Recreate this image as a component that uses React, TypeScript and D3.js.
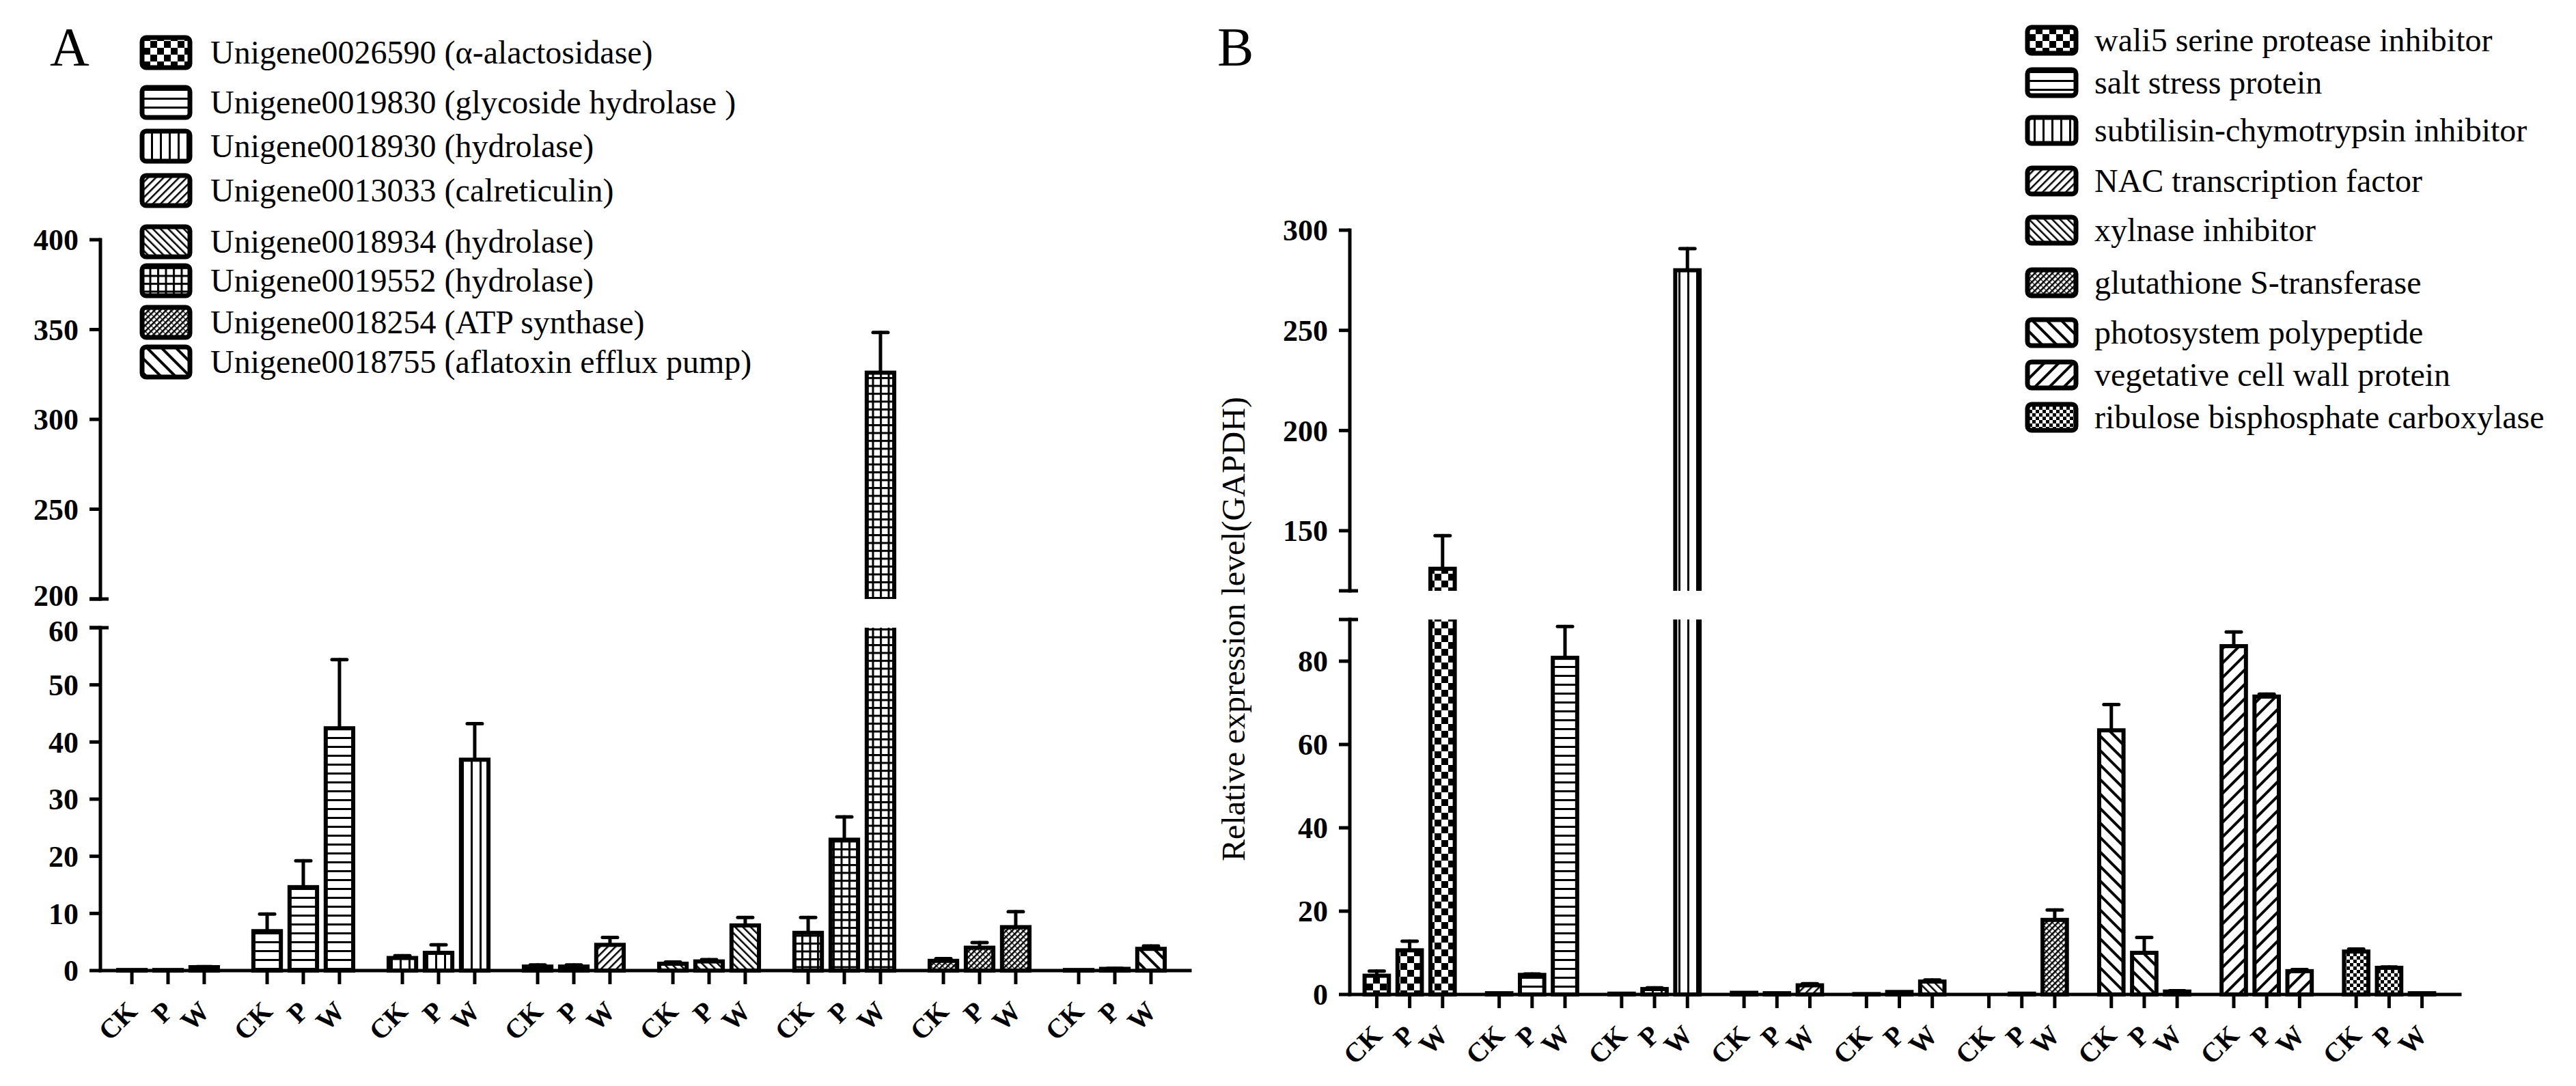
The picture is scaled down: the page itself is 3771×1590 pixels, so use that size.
import React from 'react';
import * as d3 from 'd3';

// treatments shared by both panels
const treatments = ['CK', 'P', 'W'];

// panel A
const genesA = [
  'Unigene0026590 (α-alactosidase)',
  'Unigene0019830 (glycoside hydrolase )',
  'Unigene0018930 (hydrolase)',
  'Unigene0013033 (calreticulin)',
  'Unigene0018934 (hydrolase)',
  'Unigene0019552 (hydrolase)',
  'Unigene0018254 (ATP synthase)',
  'Unigene0018755 (aflatoxin efflux pump)',
];
const meansA = [
  [0.1, 0.1, 0.6],
  [6.9, 14.6, 42.4],
  [2.2, 3.1, 36.9],
  [0.7, 0.7, 4.5],
  [1.2, 1.6, 7.9],
  [6.6, 22.9, 326],
  [1.7, 4.0, 7.6],
  [0.1, 0.3, 3.8],
];
const errorsA = [
  [0, 0, 0.1],
  [3.0, 4.6, 12.0],
  [0.4, 1.4, 6.3],
  [0.3, 0.3, 1.3],
  [0.3, 0.3, 1.4],
  [2.7, 4.0, 22.4],
  [0.4, 0.9, 2.7],
  [0, 0.1, 0.5],
];
const patternsA = ['checker', 'hlines', 'vlines', 'fdiag', 'bdiag', 'grid', 'dense', 'wbdiag'];
const lowerTicksA = [0, 10, 20, 30, 40, 50, 60];
const upperTicksA = [200, 250, 300, 350, 400];

// panel B
const genesB = [
  'wali5 serine protease inhibitor',
  'salt stress protein',
  'subtilisin-chymotrypsin inhibitor',
  'NAC transcription factor',
  'xylnase inhibitor',
  'glutathione S-transferase',
  'photosystem polypeptide',
  'vegetative cell wall protein',
  'ribulose bisphosphate carboxylase',
];
const meansB = [
  [4.5, 10.6, 131],
  [0.3, 4.7, 80.8],
  [0.2, 1.3, 280],
  [0.4, 0.3, 2.2],
  [0.1, 0.6, 3.1],
  [0.0, 0.2, 17.9],
  [63.4, 10.0, 0.7],
  [83.6, 71.5, 5.6],
  [10.3, 6.4, 0.3],
];
const errorsB = [
  [1.1, 2.2, 16.5],
  [0, 0.2, 7.5],
  [0, 0.3, 10.8],
  [0, 0, 0.4],
  [0, 0, 0.4],
  [0, 0, 2.4],
  [6.2, 3.7, 0.2],
  [3.4, 0.6, 0.4],
  [0.6, 0.2, 0],
];
const patternsB = ['checker', 'hlines', 'vlines', 'fdiag', 'bdiag', 'dense', 'wbdiag', 'wfdiag', 'smallchecker'];
const lowerTicksB = [0, 20, 40, 60, 80];
const upperTicksB = [150, 200, 250, 300];

const FONT = "'Liberation Serif', 'Times New Roman', Times, serif";

const Patterns = () => (
  <defs>
    <pattern id="checker" width={20} height={20} patternUnits="userSpaceOnUse">
      <rect width={20} height={20} fill="#fff" />
      <rect width={10} height={10} fill="#000" />
      <rect x={10} y={10} width={10} height={10} fill="#000" />
    </pattern>
    <pattern id="smallchecker" width={10} height={10} patternUnits="userSpaceOnUse">
      <rect width={10} height={10} fill="#fff" />
      <rect width={5} height={5} fill="#000" />
      <rect x={5} y={5} width={5} height={5} fill="#000" />
    </pattern>
    <pattern id="hlines" width={13} height={13} patternUnits="userSpaceOnUse">
      <rect width={13} height={13} fill="#fff" />
      <rect y={0} width={13} height={3} fill="#000" />
    </pattern>
    <pattern id="vlines" width={13} height={13} patternUnits="userSpaceOnUse">
      <rect width={13} height={13} fill="#fff" />
      <rect x={0} width={3} height={13} fill="#000" />
    </pattern>
    <pattern id="grid" width={11.5} height={11.5} patternUnits="userSpaceOnUse">
      <rect width={11.5} height={11.5} fill="#fff" />
      <rect width={11.5} height={3} fill="#000" />
      <rect width={3} height={11.5} fill="#000" />
    </pattern>
    <pattern id="fdiag" width={8} height={8} patternUnits="userSpaceOnUse" patternTransform="rotate(45)">
      <rect width={8} height={8} fill="#fff" />
      <rect width={2.5} height={8} fill="#000" />
    </pattern>
    <pattern id="bdiag" width={8} height={8} patternUnits="userSpaceOnUse" patternTransform="rotate(-45)">
      <rect width={8} height={8} fill="#fff" />
      <rect width={2.5} height={8} fill="#000" />
    </pattern>
    <pattern id="dense" width={6} height={6} patternUnits="userSpaceOnUse" patternTransform="rotate(45)">
      <rect width={6} height={6} fill="#fff" />
      <rect width={2.5} height={6} fill="#000" />
      <rect y={0} width={6} height={1.2} fill="#000" />
    </pattern>
    <pattern id="wbdiag" width={15} height={15} patternUnits="userSpaceOnUse" patternTransform="rotate(-45)">
      <rect width={15} height={15} fill="#fff" />
      <rect width={4} height={15} fill="#000" />
    </pattern>
    <pattern id="wfdiag" width={15} height={15} patternUnits="userSpaceOnUse" patternTransform="rotate(45)">
      <rect width={15} height={15} fill="#fff" />
      <rect width={4} height={15} fill="#000" />
    </pattern>
  </defs>
);

interface PanelProps {
  id: string;
  label: string;
  labelX: number;
  genes: string[];
  means: number[][];
  errors: number[][];
  patterns: string[];
  lowerTicks: number[];
  upperTicks: number[];
  lowerDomain: [number, number];
  upperDomain: [number, number];
  lowerRange: [number, number];
  upperRange: [number, number];
  axisX: number;
  axisEnd: number;
  groupRange: [number, number];
  paddingInner: number;
  legend: { swatchX: number; w: number; h: number; textX: number; rows: number[] };
}

const Panel: React.FC<PanelProps> = (p) => {
  const lower = d3.scaleLinear().domain(p.lowerDomain).range(p.lowerRange);
  const upper = d3.scaleLinear().domain(p.upperDomain).range(p.upperRange);
  const x0 = d3.scaleBand<number>().domain(d3.range(p.genes.length)).range(p.groupRange);
  const x1 = d3.scaleBand<string>().domain(treatments).range([0, x0.bandwidth()])
    .paddingInner(p.paddingInner).paddingOuter(0.49);
  const bw = x1.bandwidth();
  const base = lower(0);
  const lowTop = lower(p.lowerDomain[1]);
  const upBottom = upper(p.upperDomain[0]);
  const ax = p.axisX;

  // labels either side of the break are nudged apart a little
  const tickLabel = (t: number, y: number, key: string, shift: number) => (
    <g key={key}>
      <line x1={ax - 16} x2={ax} y1={y} y2={y} stroke="#000" strokeWidth={5} />
      <text x={ax - 32} y={y + shift} dy="0.35em" textAnchor="end" fontSize={44}
        fontWeight="bold" fontFamily={FONT}>{t}</text>
    </g>
  );

  return (
    <g>
      <clipPath id={`${p.id}-low`}>
        <rect x={0} y={lowTop} width={3771} height={base - lowTop + 40} />
      </clipPath>
      <clipPath id={`${p.id}-up`}>
        <rect x={0} y={0} width={3771} height={upBottom} />
      </clipPath>

      <text x={p.labelX} y={96} fontSize={80} fontFamily={FONT}>{p.label}</text>

      {/* bars */}
      {p.means.map((row, gi) => row.map((v, ti) => {
        const bx = x0(gi)! + x1(treatments[ti])!;
        const cx = bx + bw / 2;
        const e = p.errors[gi][ti];
        const inUpper = v > p.upperDomain[0];
        const sc = inUpper ? upper : lower;
        const lowV = Math.min(v, p.lowerDomain[1] * 1.2);
        return (
          <g key={`${gi}-${ti}`}>
            <rect clipPath={`url(#${p.id}-low)`} x={bx} width={bw}
              y={lower(lowV)} height={base - lower(lowV)}
              fill={`url(#${p.patterns[gi]})`} stroke="#000" strokeWidth={6} />
            {inUpper && (
              <rect clipPath={`url(#${p.id}-up)`} x={bx} width={bw}
                y={upper(v)} height={upBottom - upper(v) + 30}
                fill={`url(#${p.patterns[gi]})`} stroke="#000" strokeWidth={6} />
            )}
            {e > 0 && (
              <g stroke="#000" strokeWidth={5} strokeLinecap="round">
                <line x1={cx} x2={cx} y1={sc(v)} y2={sc(v + e)} />
                <line x1={cx - 11} x2={cx + 11} y1={sc(v + e)} y2={sc(v + e)} />
              </g>
            )}
            <line x1={cx} x2={cx} y1={base} y2={base + 20} stroke="#000" strokeWidth={5} />
            <text transform={`translate(${cx + 10},${base + 62}) rotate(-45)`} textAnchor="end"
              fontSize={40} fontWeight="bold" fontFamily={FONT}>{treatments[ti]}</text>
          </g>
        );
      }))}

      {/* axes */}
      <g stroke="#000" strokeWidth={5} strokeLinecap="square">
        <line x1={ax} x2={ax} y1={base} y2={lowTop} />
        <line x1={ax} x2={ax} y1={upBottom} y2={upper(p.upperDomain[1])} />
        <line x1={ax} x2={p.axisEnd} y1={base} y2={base} />
        <line x1={ax - 16} x2={ax + 12} y1={lowTop} y2={lowTop} strokeLinecap="butt" />
        <line x1={ax - 16} x2={ax + 12} y1={upBottom} y2={upBottom} strokeLinecap="butt" />
      </g>
      {p.lowerTicks.map(t => tickLabel(t, lower(t), `l${t}`, t === p.lowerDomain[1] ? 5 : 0))}
      {p.upperTicks.map(t => tickLabel(t, upper(t), `u${t}`, t === p.upperDomain[0] ? -5 : 0))}

      {/* legend */}
      {p.genes.map((g, i) => (
        <g key={g}>
          <rect x={p.legend.swatchX} y={p.legend.rows[i] - p.legend.h / 2}
            width={p.legend.w} height={p.legend.h} rx={6}
            fill={`url(#${p.patterns[i]})`} stroke="#000" strokeWidth={7} />
          <text x={p.legend.textX} y={p.legend.rows[i]} dy="0.33em" fontSize={48}
            fontFamily={FONT}>{g}</text>
        </g>
      ))}
    </g>
  );
};

export default function App() {
  return (
    <svg width={3771} height={1590} style={{ position: 'absolute', left: 0, top: 0, background: '#fff' }}>
      <Patterns />
      <Panel id="A" label="A" labelX={73} genes={genesA} means={meansA} errors={errorsA}
        patterns={patternsA} lowerTicks={lowerTicksA} upperTicks={upperTicksA}
        lowerDomain={[0, 60]} upperDomain={[200, 400]}
        lowerRange={[1421, 919]} upperRange={[877, 351]}
        axisX={147} axisEnd={1742} groupRange={[147, 1731]} paddingInner={0.24}
        legend={{ swatchX: 208, w: 70, h: 44, textX: 308, rows: [77, 150, 214, 279, 354, 411, 472, 530] }} />
      <Panel id="B" label="B" labelX={1782} genes={genesB} means={meansB} errors={errorsB}
        patterns={patternsB} lowerTicks={lowerTicksB} upperTicks={upperTicksB}
        lowerDomain={[0, 90]} upperDomain={[120, 300]}
        lowerRange={[1456, 907]} upperRange={[865, 337]}
        axisX={1976} axisEnd={3601} groupRange={[1974, 3587]} paddingInner={0.26}
        legend={{ swatchX: 2968, w: 71, h: 38, textX: 3066, rows: [59, 121, 191, 265, 337, 414, 487, 549, 611] }} />
      <text transform="translate(1822,921) rotate(-90)" textAnchor="middle" fontSize={48}
        fontFamily={FONT}>Relative expression level(GAPDH)</text>
    </svg>
  );
}
